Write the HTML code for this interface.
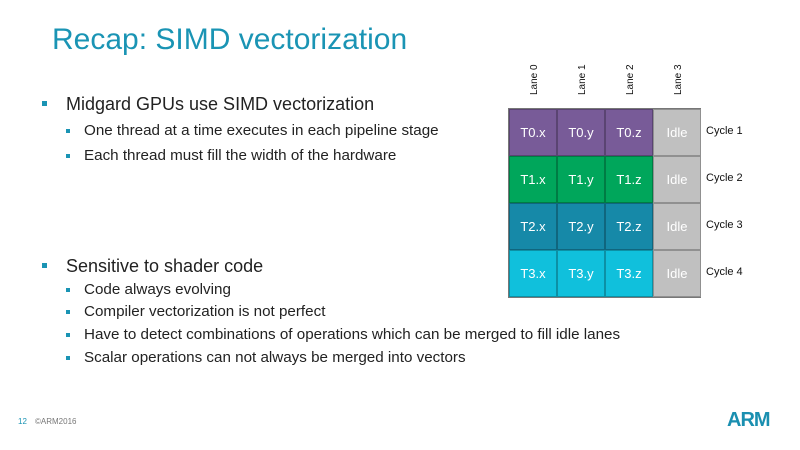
<!DOCTYPE html>
<html><head><style>
body{margin:0;width:800px;height:450px;background:#fff;position:relative;overflow:hidden;font-family:"Liberation Sans",sans-serif;}
.t{position:absolute;white-space:nowrap;}
.title{left:52px;top:23px;font-size:30px;color:#1a94b4;}
.b1{font-size:18px;color:#222;}
.b2{font-size:15.2px;color:#222;}
.sq{position:absolute;background:#1a94b4;}
.cell{position:absolute;width:46px;height:45px;color:#fff;font-size:13px;text-align:center;line-height:45px;border:1px solid rgba(0,0,0,0.25);}
.lane{position:absolute;font-size:10px;transform:rotate(-90deg);transform-origin:left top;color:#111;}
.cyc{position:absolute;font-size:11px;color:#111;left:706px;}
</style></head><body>
<div class="t title">Recap: SIMD vectorization</div>

<div class="sq" style="left:42px;top:101px;width:5px;height:5px"></div>
<div class="t b1" style="left:66px;top:94px">Midgard GPUs use SIMD vectorization</div>
<div class="sq" style="left:66px;top:129px;width:4px;height:4px"></div>
<div class="t b2" style="left:84px;top:122px">One thread at a time executes in each pipeline stage</div>
<div class="sq" style="left:66px;top:154px;width:4px;height:4px"></div>
<div class="t b2" style="left:84px;top:147px">Each thread must fill the width of the hardware</div>

<div class="sq" style="left:42px;top:263px;width:5px;height:5px"></div>
<div class="t b1" style="left:66px;top:256px">Sensitive to shader code</div>
<div class="sq" style="left:66px;top:288px;width:4px;height:4px"></div>
<div class="t b2" style="left:84px;top:281px">Code always evolving</div>
<div class="sq" style="left:66px;top:310px;width:4px;height:4px"></div>
<div class="t b2" style="left:84px;top:303px">Compiler vectorization is not perfect</div>
<div class="sq" style="left:66px;top:333px;width:4px;height:4px"></div>
<div class="t b2" style="left:84px;top:326px">Have to detect combinations of operations which can be merged to fill idle lanes</div>
<div class="sq" style="left:66px;top:356px;width:4px;height:4px"></div>
<div class="t b2" style="left:84px;top:349px">Scalar operations can not always be merged into vectors</div>

<div class="lane" style="left:529px;top:95px">Lane 0</div>
<div class="lane" style="left:577px;top:95px">Lane 1</div>
<div class="lane" style="left:625px;top:95px">Lane 2</div>
<div class="lane" style="left:673px;top:95px">Lane 3</div>

<div style="position:absolute;left:508px;top:108px;width:193px;height:190px;background:#777"></div>
<div class="cell" style="left:509px;top:109px;background:#785b98">T0.x</div>
<div class="cell" style="left:557px;top:109px;background:#785b98">T0.y</div>
<div class="cell" style="left:605px;top:109px;background:#785b98">T0.z</div>
<div class="cell" style="left:653px;top:109px;background:#c0c0c0">Idle</div>
<div class="cell" style="left:509px;top:156px;background:#00a65b">T1.x</div>
<div class="cell" style="left:557px;top:156px;background:#00a65b">T1.y</div>
<div class="cell" style="left:605px;top:156px;background:#00a65b">T1.z</div>
<div class="cell" style="left:653px;top:156px;background:#c0c0c0">Idle</div>
<div class="cell" style="left:509px;top:203px;background:#1689a8">T2.x</div>
<div class="cell" style="left:557px;top:203px;background:#1689a8">T2.y</div>
<div class="cell" style="left:605px;top:203px;background:#1689a8">T2.z</div>
<div class="cell" style="left:653px;top:203px;background:#c0c0c0">Idle</div>
<div class="cell" style="left:509px;top:250px;background:#10c0dc">T3.x</div>
<div class="cell" style="left:557px;top:250px;background:#10c0dc">T3.y</div>
<div class="cell" style="left:605px;top:250px;background:#10c0dc">T3.z</div>
<div class="cell" style="left:653px;top:250px;background:#c0c0c0">Idle</div>

<div class="cyc" style="top:125px">Cycle 1</div>
<div class="cyc" style="top:172px">Cycle 2</div>
<div class="cyc" style="top:219px">Cycle 3</div>
<div class="cyc" style="top:266px">Cycle 4</div>

<div class="t" style="left:18px;top:417px;font-size:8px;color:#1a94b4">12</div>
<div class="t" style="left:35px;top:417px;font-size:8px;color:#777">©ARM2016</div>
<div class="t" style="left:727px;top:409px;font-size:20px;font-weight:bold;color:#1a8fb0;letter-spacing:-1px">ARM</div>
</body></html>
